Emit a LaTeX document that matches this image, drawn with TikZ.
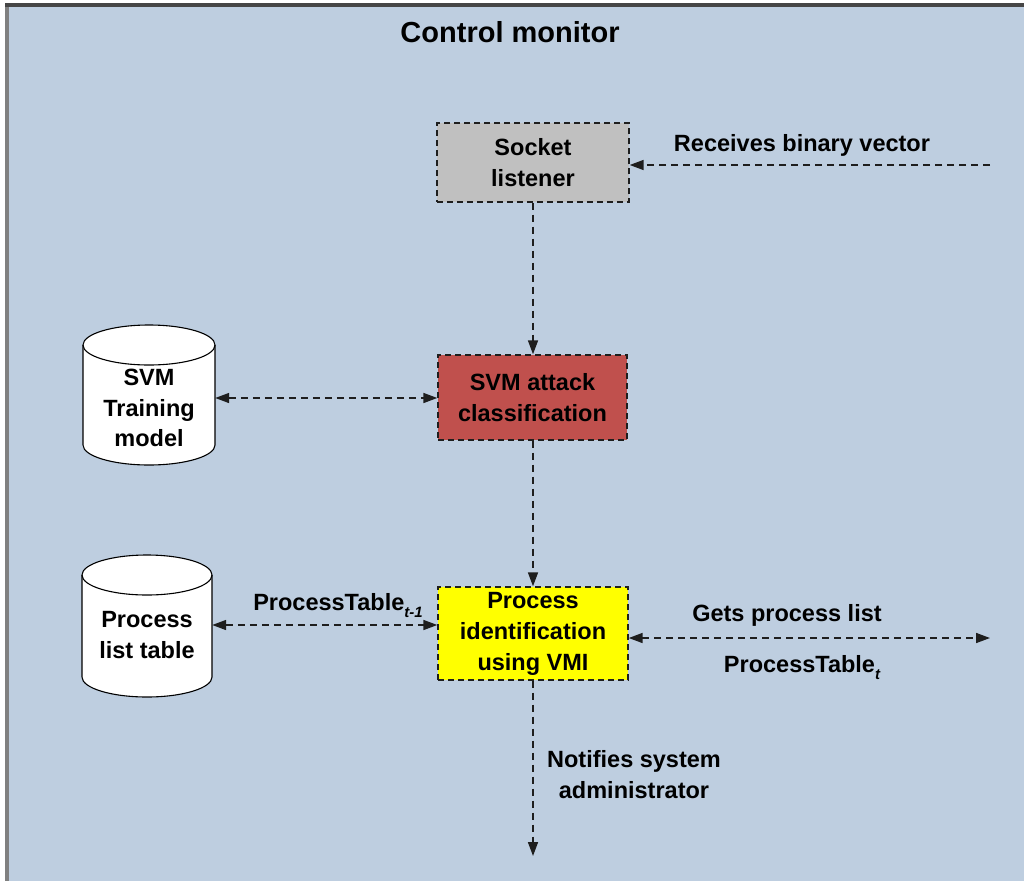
\documentclass[tikz,border=0pt]{standalone}
\usepackage{fontspec}
\setmainfont{Liberation Sans}
\usetikzlibrary{arrows.meta}

\definecolor{panelbg}{RGB}{190,206,224}
\definecolor{framegray}{RGB}{128,128,128}
\definecolor{frametop}{RGB}{70,70,70}
\definecolor{linegray}{RGB}{30,30,30}
\definecolor{socketgray}{RGB}{192,192,192}
\definecolor{svmred}{RGB}{192,80,77}
\definecolor{vmiyellow}{RGB}{255,255,0}

\tikzset{
  lbl/.style={font=\fontsize{23.5}{31}\selectfont\bfseries, text=black, align=center, inner sep=0pt},
  titlelbl/.style={font=\fontsize{29}{34}\selectfont\bfseries, text=black, inner sep=0pt},
  procbox/.style={draw=linegray, line width=1.4pt, dash pattern=on 6pt off 4pt,
    minimum width=190pt, align=center, inner sep=0pt,
    font=\fontsize{23.5}{31}\selectfont\bfseries},
  dbnode/.style={draw=none, inner sep=0pt, align=center,
    font=\fontsize{23.5}{30.5}\selectfont\bfseries},
  dbshape/.style={draw=black, line width=1.1pt, fill=white},
  flow/.style={draw=linegray, line width=1.6pt, dash pattern=on 7pt off 5pt,
    -{Triangle[length=14pt,width=10pt]}},
  flowboth/.style={flow, {Triangle[length=14pt,width=10pt]}-{Triangle[length=14pt,width=10pt]}},
}

\newcommand{\subit}[1]{\raisebox{-0.3em}{\fontsize{15}{15}\selectfont\bfseries\itshape #1}}

\begin{document}
\begin{tikzpicture}[x=1pt,y=1pt]
  \useasboundingbox (0,0) rectangle (1024,-881);

  % panel and its frame
  \fill[white] (0,0) rectangle (1024,-881);
  \fill[panelbg] (8,-5) rectangle (1024,-881);
  \fill[framegray] (5,-4) rectangle (9,-881);
  \fill[frametop] (5,-3) rectangle (1024,-7);

  \node[titlelbl] (title) at (510,-32) {Control monitor};

  % processing stages
  \node[procbox, fill=socketgray, minimum width=192pt, minimum height=79pt]
    (socket) at (533,-162.5) {Socket\\listener};
  \node[procbox, fill=svmred, minimum width=189pt, minimum height=85pt]
    (svm) at (532.5,-397.5) {SVM attack\\classification};
  \node[procbox, fill=vmiyellow, minimum width=190pt, minimum height=93pt]
    (vmi) at (533,-633.5) {Process\\identification\\using VMI};

  % data stores (cylinders)
  \draw[dbshape] (83,-345) -- (83,-445) arc (180:360:66 and 20) -- (215,-345)
    arc (0:180:66 and 20) -- cycle;
  \draw[line width=1.1pt] (83,-345) arc (180:360:66 and 20);
  \node[dbnode, minimum width=132pt, minimum height=140pt] (svmdb) at (149,-395) {};
  \node[dbnode] (svmdbtxt) at (149,-408) {SVM\\Training\\model};

  \draw[dbshape] (82,-575) -- (82,-677) arc (180:360:65 and 20) -- (212,-575)
    arc (0:180:65 and 20) -- cycle;
  \draw[line width=1.1pt] (82,-575) arc (180:360:65 and 20);
  \node[dbnode, minimum width=130pt, minimum height=142pt] (procdb) at (147,-626) {};
  \node[dbnode] (procdbtxt) at (147,-635) {Process\\list table};

  % free ends of the outer connectors
  \coordinate (inlet) at (990,-165);
  \coordinate (hostside) at (990,-638);
  \coordinate (admin) at (533,-856);

  % connectors
  \draw[flow] (inlet) -- (socket.east |- inlet);
  \draw[flow] (socket.south) -- (svm.north -| socket.south);
  \draw[flowboth] (svmdb.east |- 0,-398) -- (svm.west |- 0,-398);
  \draw[flow] (svm.south -| vmi.north) -- (vmi.north);
  \draw[flowboth] (procdb.east |- 0,-625) -- (vmi.west |- 0,-625);
  \draw[flowboth] (vmi.east |- hostside) -- (hostside);
  \draw[flow] (vmi.south) -- (admin);

  % connector labels
  \node[lbl] (recv) at (802,-145) {Receives binary vector};
  \node[lbl] (ptprev) at (338,-606) {ProcessTable\subit{t-1}};
  \node[lbl] (gets) at (787,-615) {Gets process list};
  \node[lbl] (ptcur) at (802,-668) {ProcessTable\subit{t}};
  \node[lbl] (notify) at (634,-775) {Notifies system\\administrator};
\end{tikzpicture}
\end{document}
